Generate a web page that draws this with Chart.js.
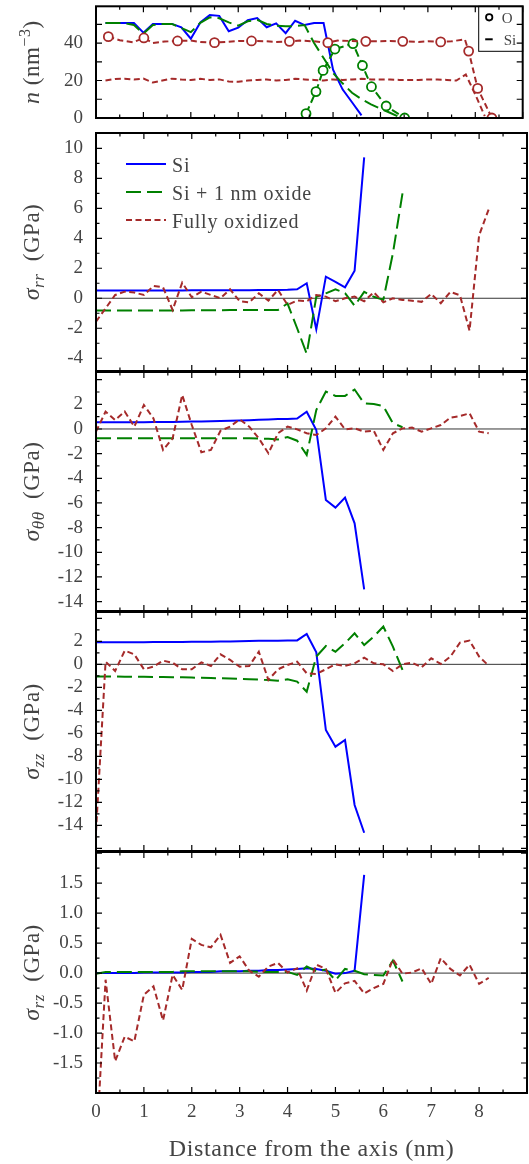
<!DOCTYPE html>
<html lang="en">
<head>
<meta charset="utf-8">
<title>Density and stress profiles</title>
<script src="https://cdn.jsdelivr.net/npm/chart.js@4.4.1/dist/chart.umd.min.js"></script>
<style>
  html, body { margin: 0; padding: 0; background: #fff; }
  #figure { position: relative; width: 529px; height: 1164px; overflow: hidden; }
  #figure canvas { position: absolute; left: 0; }
</style>
</head>
<body>
<div id="figure">
  <canvas id="panelN"></canvas>
  <canvas id="panelRR"></canvas>
  <canvas id="panelTT"></canvas>
  <canvas id="panelZZ"></canvas>
  <canvas id="panelRZ"></canvas>
</div>
<script>
/* ── Radial positions (nm) ── */
const rSi   = [0,0.2,0.4,0.6,0.8,1,1.2,1.4,1.6,1.8,2,2.2,2.4,2.6,2.8,3,3.2,3.4,3.6,3.8,4,4.2,4.4,4.6,4.8,5,5.2,5.4,5.6];
const rOx   = [0,0.2,0.4,0.6,0.8,1,1.2,1.4,1.6,1.8,2,2.2,2.4,2.6,2.8,3,3.2,3.4,3.6,3.8,4,4.2,4.4,4.6,4.8,5,5.2,5.4,5.6,5.8,6,6.2,6.4];
const rFull = [0,0.2,0.4,0.6,0.8,1,1.2,1.4,1.6,1.8,2,2.2,2.4,2.6,2.8,3,3.2,3.4,3.6,3.8,4,4.2,4.4,4.6,4.8,5,5.2,5.4,5.6,5.8,6,6.2,6.4,6.6,6.8,7,7.2,7.4,7.6,7.8,8,8.2];

/* ── Number densities (nm^-3) ── */
const nSi       = [50.7,50.7,50.7,50.7,45.5,50.2,50.2,50.2,48.4,42.3,51.0,54.9,54.5,46.3,48.2,52.2,53.3,48.4,50.5,45.3,51.9,49.6,50.7,50.7,25.8,15.3,8.4,1.4];
const nOxSi     = [50.7,50.7,50.7,49.6,45.0,49.6,50.2,50.2,48.0,45.8,50.8,53.7,53.2,51.0,49.3,51.6,52.4,50.2,49.3,49.0,49.0,49.6,40.0,32.0,24.0,18.5,13.5,10.0,7.3,5.0,2.8,0.5];
const rOxO      = [4.43,4.64,4.79,5.04,5.42,5.62,5.81,6.12,6.51];
const nOxO      = [2.3,14.1,25.4,36.8,39.7,28.0,16.7,6.4,0.0];
const rFullO    = [0.26,0.5,0.78,1.01,1.2,1.45,1.72,2.0,2.2,2.5,2.75,3.0,3.28,3.6,3.8,4.08,4.3,4.6,4.89,5.1,5.4,5.69,6.0,6.2,6.47,6.8,7.0,7.27,7.5,7.78,7.86,8.05,8.35];
const nFullO    = [43.4,41.5,40.4,42.7,40.0,40.8,41.1,41.3,40.6,40.2,40.6,41.1,41.1,40.9,40.6,40.9,41.3,40.9,40.2,41.3,41.1,40.9,40.9,41.1,40.9,40.6,40.9,40.6,40.9,42.0,35.7,15.8,0.0];
const fullOMarks = [0,3,6,9,12,15,18,21,24,27,30,31,32];
const nFullSi   = [20.0,20.8,21.0,20.5,21.0,18.9,20.0,21.0,20.5,20.3,20.9,20.3,20.6,19.5,19.3,20.0,20.3,20.6,20.0,20.3,20.9,20.6,20.3,20.0,20.6,20.3,20.6,20.9,20.6,20.6,20.6,20.3,20.3,20.3,20.6,20.6,20.3,20.0,23.2,12.5,1.0];

/* ── Stresses (GPa) ── */
const rrSi   = [0.52,0.52,0.52,0.52,0.52,0.52,0.52,0.52,0.52,0.52,0.53,0.53,0.53,0.53,0.53,0.54,0.54,0.55,0.55,0.55,0.56,0.6,1.0,-2.07,1.44,1.1,0.73,1.84,9.4];
const rrOx   = [-0.82,-0.82,-0.82,-0.82,-0.82,-0.82,-0.81,-0.81,-0.81,-0.81,-0.8,-0.8,-0.8,-0.8,-0.79,-0.79,-0.79,-0.78,-0.78,-0.78,-0.35,-2.0,-3.7,0.1,0.33,0.6,0.34,-0.5,0.43,0.1,-0.1,3.0,7.0];
const rrFull = [-1.56,-0.67,0.22,0.44,0.38,0.22,0.82,0.73,-0.78,1.04,0.07,0.44,0.22,0.0,0.6,-0.2,-0.27,0.33,-0.16,0.56,-0.44,-0.15,-0.2,0.22,0.11,-0.2,0.0,0.11,-0.2,0.4,-0.27,0.0,-0.11,-0.16,-0.24,0.29,-0.33,0.42,0.2,-2.16,4.2,5.93];

const ttSi   = [0.54,0.54,0.54,0.54,0.55,0.55,0.56,0.56,0.57,0.58,0.6,0.61,0.63,0.65,0.67,0.69,0.71,0.74,0.77,0.8,0.81,0.84,1.4,-0.08,-5.76,-6.38,-5.57,-7.65,-13.0];
const ttOx   = [-0.76,-0.76,-0.76,-0.76,-0.76,-0.76,-0.76,-0.76,-0.76,-0.76,-0.76,-0.76,-0.76,-0.76,-0.76,-0.76,-0.76,-0.77,-0.8,-0.86,-0.66,-0.95,-2.1,1.54,3.03,2.68,2.68,3.2,2.08,2.03,1.86,0.46,0.14];
const ttFull = [-0.22,1.41,0.73,1.41,0.19,1.95,0.86,-1.7,-0.76,2.76,0.32,-1.89,-1.7,-0.14,0.19,0.78,0.19,-0.76,-1.97,-0.35,0.19,-0.03,-0.35,-0.49,0.05,1.0,-0.03,0.05,-0.22,-0.14,-1.7,-0.35,0.05,0.11,-0.22,0.05,0.32,0.92,1.05,1.27,-0.22,-0.35];

const zzSi   = [1.91,1.91,1.92,1.92,1.93,1.93,1.94,1.94,1.95,1.95,1.96,1.96,1.97,1.98,1.99,2.0,2.02,2.04,2.05,2.06,2.07,2.08,2.64,1.04,-5.71,-7.16,-6.58,-12.23,-14.64];
const zzOx   = [-1.05,-1.05,-1.06,-1.07,-1.08,-1.09,-1.1,-1.11,-1.12,-1.13,-1.15,-1.17,-1.19,-1.21,-1.24,-1.27,-1.3,-1.33,-1.37,-1.42,-1.3,-1.5,-2.38,0.67,1.59,1.1,1.83,2.7,1.68,2.41,3.28,1.54,-0.49];
const zzFull = [-14.55,0.23,-0.58,1.19,0.87,-0.43,-0.2,0.32,0.14,-0.43,-0.43,0.17,-0.14,0.87,0.38,-0.2,-0.14,1.1,-1.36,-0.43,-0.06,0.23,-0.78,-0.84,-0.43,0,-0.14,0.09,0.58,0.09,0,-0.58,0,0.14,-0.26,0.52,0.03,0.67,1.88,2.06,0.67,-0.12];

const rzSi   = [0,0,0,0,0,0.01,0.01,0.01,0.01,0.01,0.02,0.02,0.02,0.03,0.03,0.03,0.04,0.04,0.05,0.05,0.06,0.07,0.08,0.07,0.04,-0.01,0,0.04,1.64];
const rzOx   = [-0.01,0.02,0.02,0.02,0.02,0.02,0.02,0.02,0.02,0.03,0.03,0.03,0.03,0.03,0.03,0.03,0.03,0.02,0.02,0.02,0.02,-0.03,0.11,0.03,0.06,-0.12,0.07,0.04,-0.02,-0.03,-0.04,0.21,-0.14];
const rzFull = [-3.0,-0.11,-1.47,-1.06,-1.14,-0.36,-0.22,-0.79,-0.03,-0.28,0.57,0.47,0.43,0.64,0.17,0.28,0.04,-0.06,0.11,0.17,0.01,0.08,-0.29,0.14,0.07,-0.33,-0.17,-0.13,-0.34,-0.25,-0.18,0.23,-0.01,0.01,0.08,-0.18,0.25,0.07,-0.04,0.14,-0.18,-0.08];

/* ── Tick labels ── */
const xTicks  = [0,1,2,3,4,5,6,7,8];
const nTicks  = [0,20,40];
const rrTicks = [-4,-2,0,2,4,6,8,10];
const ttTicks = [-14,-12,-10,-8,-6,-4,-2,0,2];
const zzTicks = [-14,-12,-10,-8,-6,-4,-2,0,2];
const rzTicks = [-1.5,-1,-0.5,0,0.5,1,1.5];

/* ── Style ── */
const SERIF = "'Liberation Serif', 'Times New Roman', serif";
const TEXT  = '#444';
const BLUE  = '#0000ff';
const GREEN = '#008000';
const RED   = '#a52a2a';
const W     = 529;

const pts = (xs, ys) => xs.map((x, i) => ({ x, y: ys[i] }));
const fnt = (size, italic) => (italic ? 'italic ' : '') + size + 'px ' + SERIF;

function drawRich(ctx, parts, x, y, rotate) {
  ctx.save();
  ctx.translate(x, y);
  if (rotate) ctx.rotate(-Math.PI / 2);
  ctx.letterSpacing = '0.5px';
  let w = 0;
  parts.forEach(p => { ctx.font = fnt(p.size, p.italic); w += ctx.measureText(p.t).width; });
  let cx = -w / 2;
  ctx.fillStyle = TEXT;
  ctx.textAlign = 'left';
  ctx.textBaseline = 'alphabetic';
  parts.forEach(p => {
    ctx.font = fnt(p.size, p.italic);
    ctx.fillText(p.t, cx, p.dy || 0);
    cx += ctx.measureText(p.t).width;
  });
  ctx.restore();
}

const sigma = sub => [
  { t: 'σ', size: 24, italic: true },
  { t: sub, size: 17, italic: true, dy: 5 },
  { t: '  (GPa)', size: 23 }
];

/* ── Frame, inward ticks, titles, legends ── */
const deco = {
  id: 'deco',
  beforeDatasetsDraw(chart, args, o) {
    if (!o.zero) return;
    const { ctx, chartArea: a, scales: { y } } = chart;
    const py = y.getPixelForValue(0);
    ctx.save();
    ctx.strokeStyle = '#000';
    ctx.lineWidth = 0.8;
    ctx.beginPath(); ctx.moveTo(a.left, py); ctx.lineTo(a.right, py); ctx.stroke();
    ctx.restore();
  },
  afterDraw(chart, args, o) {
    const { ctx, chartArea: a, scales: { x, y } } = chart;
    ctx.save();
    ctx.strokeStyle = '#000';
    ctx.lineWidth = 1.2;
    ctx.beginPath();
    // x ticks (top and bottom)
    for (let v = x.min; v <= x.max + 1e-9; v += 0.5) {
      const px = x.getPixelForValue(v);
      const len = Math.abs(v - Math.round(v)) < 1e-6 ? 6 : 3.5;
      ctx.moveTo(px, a.top); ctx.lineTo(px, a.top + len);
      ctx.moveTo(px, a.bottom); ctx.lineTo(px, a.bottom - len);
    }
    // y ticks (left and right)
    for (let v = Math.ceil(y.min / o.yMinor - 1e-9) * o.yMinor; v <= y.max + 1e-9; v += o.yMinor) {
      const py = y.getPixelForValue(v);
      const r = v / o.yMajor;
      const len = Math.abs(r - Math.round(r)) < 1e-6 ? 6 : 3.5;
      ctx.moveTo(a.left, py); ctx.lineTo(a.left + len, py);
      ctx.moveTo(a.right, py); ctx.lineTo(a.right - len, py);
    }
    ctx.stroke();
    ctx.lineWidth = 2;
    ctx.strokeRect(a.left, a.top, a.right - a.left, a.bottom - a.top);

    drawRich(ctx, o.title, 39, (a.top + a.bottom) / 2 + (o.titleShift || 0), true);

    if (o.legend === 'stress') {
      chart.data.datasets.forEach((d, i) => {
        const ly = a.top + 31 + i * 28;
        ctx.strokeStyle = d.borderColor;
        ctx.lineWidth = 2;
        ctx.setLineDash(d.borderDash || []);
        ctx.beginPath(); ctx.moveTo(a.left + 30, ly); ctx.lineTo(a.left + 70, ly); ctx.stroke();
        ctx.setLineDash([]);
        ctx.fillStyle = TEXT;
        ctx.font = fnt(20);
        ctx.letterSpacing = '0.8px';
        ctx.textAlign = 'left';
        ctx.textBaseline = 'alphabetic';
        ctx.fillText(d.label, a.left + 76, ly + 7.5);
        ctx.letterSpacing = '0px';
      });
    }

    if (o.legend === 'density') {
      ctx.lineWidth = 1;
      ctx.strokeStyle = '#000';
      ctx.strokeRect(a.right - 44, a.top, 44, 45);
      ctx.lineWidth = 1.8;
      ctx.beginPath(); ctx.arc(a.right - 33.5, a.top + 11, 3.2, 0, Math.PI * 2); ctx.stroke();
      ctx.lineWidth = 2;
      ctx.beginPath(); ctx.moveTo(a.right - 37.5, a.top + 33); ctx.lineTo(a.right - 30, a.top + 33); ctx.stroke();
      ctx.fillStyle = TEXT;
      ctx.font = fnt(15);
      ctx.textAlign = 'left';
      ctx.fillText('O', a.right - 21, a.top + 17);
      ctx.fillText('Si', a.right - 19, a.top + 39);
    }

    if (o.xTitle) {
      ctx.fillStyle = TEXT;
      ctx.font = fnt(24);
      ctx.letterSpacing = '0.6px';
      ctx.textAlign = 'center';
      ctx.textBaseline = 'alphabetic';
      ctx.fillText(o.xTitle, (a.left + a.right) / 2, a.bottom + 63);
    }
    ctx.restore();
  }
};

function makePanel(id, cfg) {
  const cv = document.getElementById(id);
  cv.width = W;
  cv.height = cfg.h;
  cv.style.top = cfg.top + 'px';
  return new Chart(cv, {
    type: 'line',
    data: { datasets: cfg.datasets },
    options: {
      responsive: false,
      animation: false,
      events: [],
      layout: { padding: { left: 0, right: 2, top: cfg.padTop, bottom: cfg.padBottom } },
      elements: {
        line: { tension: 0, borderWidth: 2, borderCapStyle: 'butt', fill: false },
        point: { radius: 0 }
      },
      plugins: { legend: { display: false }, tooltip: { enabled: false }, deco: cfg.deco },
      scales: {
        x: {
          type: 'linear', min: 0, max: 9,
          display: !!cfg.xLabels,
          grid: { display: false, drawTicks: false },
          border: { display: false },
          ticks: { color: TEXT, padding: 8, autoSkip: false, maxRotation: 0, font: { family: SERIF, size: 19 } },
          afterBuildTicks: s => { s.ticks = xTicks.map(v => ({ value: v })); },
          afterFit: s => { if (cfg.xLabels) s.height = 71; s.paddingLeft = 0; s.paddingRight = 0; }
        },
        y: {
          type: 'linear', min: cfg.yMin, max: cfg.yMax,
          grid: { display: false, drawTicks: false },
          border: { display: false },
          ticks: { color: TEXT, padding: 13, font: { family: SERIF, size: 19 }, callback: cfg.fmt || (v => String(v)) },
          afterBuildTicks: s => { s.ticks = cfg.yTicks.map(v => ({ value: v })); },
          afterFit: s => { s.width = 96; s.paddingTop = 0; s.paddingBottom = 0; }
        }
      }
    },
    plugins: [deco]
  });
}

const stressSets = (si, ox, full) => [
  { label: 'Si', data: pts(rSi, si), borderColor: BLUE, order: 3 },
  { label: 'Si + 1 nm oxide', data: pts(rOx, ox), borderColor: GREEN, borderDash: [15, 6], order: 2 },
  { label: 'Fully oxidized', data: pts(rFull, full), borderColor: RED, borderDash: [6, 3.5], order: 1 }
];

/* ── Density panel ── */
makePanel('panelN', {
  top: 0, h: 126, padTop: 4, padBottom: 8,
  yMin: 0, yMax: 59.6, yTicks: nTicks,
  deco: {
    yMinor: 10, yMajor: 10, legend: 'density',
    title: [
      { t: 'n', size: 24, italic: true },
      { t: ' (nm', size: 23 },
      { t: '−3', size: 16, dy: -9 },
      { t: ')', size: 23 }
    ]
  },
  datasets: [
    { data: pts(rSi.slice(1), nSi), borderColor: BLUE, order: 5 },
    { data: pts(rOx.slice(1), nOxSi), borderColor: GREEN, borderDash: [15, 6], order: 4 },
    { data: pts(rOxO, nOxO), borderColor: GREEN, borderDash: [8, 4], order: 3,
      pointRadius: 4.5, pointBorderWidth: 1.8, pointBorderColor: GREEN, pointBackgroundColor: '#fff' },
    { data: pts(rFull.slice(1), nFullSi), borderColor: RED, borderDash: [6, 3.5], order: 2 },
    { data: pts(rFullO, nFullO), borderColor: RED, borderDash: [6, 3.5], order: 1,
      pointRadius: c => fullOMarks.includes(c.dataIndex) ? 4.5 : 0,
      pointBorderWidth: 1.8, pointBorderColor: RED, pointBackgroundColor: '#fff' }
  ]
});

/* ── Stress panels ── */
makePanel('panelRR', {
  top: 127, h: 250, padTop: 6, padBottom: 6,
  yMin: -4.85, yMax: 11.02, yTicks: rrTicks,
  deco: { yMinor: 1, yMajor: 2, zero: true, legend: 'stress', title: sigma('rr') },
  datasets: stressSets(rrSi, rrOx, rrFull)
});

makePanel('panelTT', {
  top: 366, h: 251, padTop: 6, padBottom: 6,
  yMin: -14.76, yMax: 4.62, yTicks: ttTicks,
  deco: { yMinor: 1, yMajor: 2, zero: true, title: sigma('θθ') },
  datasets: stressSets(ttSi, ttOx, ttFull)
});

makePanel('panelZZ', {
  top: 606, h: 251, padTop: 6, padBottom: 6,
  yMin: -16.23, yMax: 4.55, yTicks: zzTicks,
  deco: { yMinor: 1, yMajor: 2, zero: true, title: sigma('zz') },
  datasets: stressSets(zzSi, zzOx, zzFull)
});

makePanel('panelRZ', {
  top: 846, h: 318, padTop: 6, padBottom: 0,
  yMin: -2, yMax: 2.02, yTicks: rzTicks, xLabels: true,
  fmt: v => v.toFixed(1),
  deco: { yMinor: 0.25, yMajor: 0.5, zero: true, title: sigma('rz'), xTitle: 'Distance from the axis (nm)' },
  datasets: stressSets(rzSi, rzOx, rzFull)
});
</script>
</body>
</html>
